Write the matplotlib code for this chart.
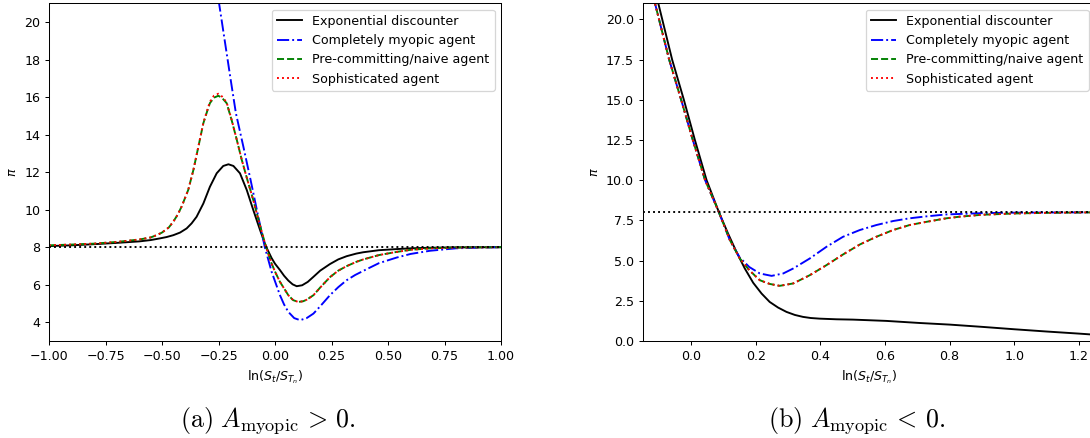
import matplotlib
matplotlib.use("Agg")
import matplotlib.pyplot as plt

# ---------------- data: panel (a) A_myopic > 0 ----------------
xa_exp = [-1.00, -0.90, -0.80, -0.70, -0.60, -0.55, -0.509, -0.48, -0.45, -0.42, -0.391,
          -0.369, -0.347, -0.317, -0.288, -0.258, -0.229, -0.206, -0.184, -0.155, -0.125,
          -0.096, -0.066, -0.04, -0.015, 0.0, 0.022, 0.04, 0.059, 0.078, 0.096, 0.12, 0.145,
          0.17, 0.20, 0.243, 0.28, 0.317, 0.36, 0.39, 0.46, 0.54, 0.60, 0.686, 0.80, 1.00]
ya_exp = [8.06, 8.10, 8.16, 8.23, 8.31, 8.38, 8.47, 8.54, 8.64, 8.78, 9.00,
          9.27, 9.62, 10.33, 11.22, 11.94, 12.33, 12.42, 12.33, 11.94, 11.05,
          9.98, 8.91, 8.04, 7.42, 7.12, 6.78, 6.48, 6.22, 6.02, 5.92, 5.97, 6.15,
          6.42, 6.75, 7.10, 7.35, 7.52, 7.66, 7.73, 7.84, 7.90, 7.94, 7.97, 7.99, 8.00]

xa_myo = [-0.25, -0.2465, -0.22, -0.196, -0.173, -0.140, -0.108, -0.077, -0.045, -0.015,
          0.022, 0.04, 0.059, 0.085, 0.111, 0.14, 0.17, 0.20, 0.243, 0.28, 0.317, 0.355,
          0.391, 0.46, 0.539, 0.60, 0.686, 0.80, 0.90, 1.00]
ya_myo = [21.2, 20.92, 18.82, 16.92, 15.14, 13.36, 11.58, 9.80, 8.00, 6.69,
          5.44, 4.95, 4.55, 4.22, 4.11, 4.22, 4.46, 4.85, 5.44, 5.87, 6.24, 6.52,
          6.74, 7.15, 7.45, 7.64, 7.81, 7.94, 7.98, 8.00]

xa_pre = [-1.00, -0.90, -0.80, -0.70, -0.60, -0.55, -0.52, -0.50, -0.47, -0.45, -0.43,
          -0.413, -0.384, -0.361, -0.339, -0.317, -0.30, -0.288, -0.27, -0.251, -0.235,
          -0.214, -0.192, -0.169, -0.147, -0.122, -0.096, -0.069, -0.040, -0.015, 0.0,
          0.022, 0.059, 0.08, 0.103, 0.125, 0.14, 0.17, 0.20, 0.243, 0.28, 0.317, 0.36,
          0.391, 0.46, 0.539, 0.60, 0.686, 0.80, 1.00]
ya_pre = [8.10, 8.14, 8.19, 8.28, 8.41, 8.52, 8.66, 8.78, 9.05, 9.36, 9.75,
          10.17, 11.05, 12.12, 13.36, 14.61, 15.25, 15.68, 15.97, 16.07, 15.97,
          15.68, 14.78, 13.72, 12.65, 11.58, 10.51, 9.27, 8.02, 7.13, 6.70,
          6.15, 5.44, 5.18, 5.08, 5.12, 5.20, 5.44, 5.85, 6.40, 6.75, 6.99, 7.22,
          7.35, 7.58, 7.75, 7.86, 7.94, 7.98, 8.00]

xa_sop = xa_pre
ya_sop = [8.10, 8.14, 8.19, 8.28, 8.41, 8.52, 8.66, 8.78, 9.05, 9.36, 9.75,
          10.17, 11.05, 12.12, 13.36, 14.63, 15.30, 15.75, 16.08, 16.18, 16.04,
          15.72, 14.80, 13.72, 12.65, 11.58, 10.51, 9.27, 8.02, 7.13, 6.70,
          6.15, 5.44, 5.18, 5.08, 5.12, 5.20, 5.44, 5.85, 6.40, 6.75, 6.99, 7.22,
          7.35, 7.58, 7.75, 7.86, 7.94, 7.98, 8.00]

# ---------------- data: panel (b) A_myopic < 0 ----------------
xb_exp = [-0.11, -0.102, -0.0588, -0.0226, 0.0114, 0.0476, 0.0857, 0.114, 0.140, 0.166,
          0.192, 0.218, 0.243, 0.269, 0.295, 0.321, 0.346, 0.37, 0.398, 0.45, 0.501,
          0.604, 0.707, 0.80, 0.90, 1.00, 1.10, 1.20, 1.25]
yb_exp = [21.7, 21.02, 17.49, 15.0, 12.51, 10.01, 8.02, 6.69, 5.55, 4.51,
          3.62, 2.95, 2.43, 2.08, 1.81, 1.62, 1.50, 1.43, 1.39, 1.35, 1.33,
          1.25, 1.12, 1.02, 0.88, 0.73, 0.59, 0.46, 0.39]

xb_myo = [-0.12, -0.112, -0.068, -0.031, 0.005, 0.043, 0.0857, 0.1197, 0.15, 0.18,
          0.2125, 0.249, 0.285, 0.316, 0.367, 0.419, 0.470, 0.522, 0.573, 0.625,
          0.676, 0.728, 0.79, 0.90, 1.00, 1.25]
yb_myo = [21.6, 21.0, 17.49, 15.0, 12.51, 10.01, 8.02, 6.27, 5.20, 4.60,
          4.20, 4.05, 4.20, 4.51, 5.13, 5.86, 6.48, 6.90, 7.21, 7.46,
          7.63, 7.75, 7.87, 7.95, 7.98, 8.00]

xb_pre = [-0.12, -0.112, -0.068, -0.031, 0.005, 0.043, 0.0857, 0.12, 0.15, 0.18,
          0.2125, 0.243, 0.274, 0.316, 0.367, 0.419, 0.470, 0.522, 0.573, 0.625,
          0.676, 0.728, 0.79, 0.831, 0.90, 1.00, 1.10, 1.25]
yb_pre = [21.6, 21.0, 17.49, 15.0, 12.51, 10.01, 8.02, 6.27, 5.15, 4.40,
          3.78, 3.55, 3.43, 3.58, 4.09, 4.72, 5.38, 6.00, 6.48, 6.90,
          7.21, 7.41, 7.63, 7.73, 7.85, 7.93, 7.97, 8.00]

xb_sop = xb_pre
yb_sop = yb_pre

merton_level = 8.0

labels = ["Exponential discounter", "Completely myopic agent",
          "Pre-committing/naive agent", "Sophisticated agent"]
xlabel = r"ln($S_t/S_{T_n}$)"
ylabel = r"$\pi$"
captions = [r"$\mathrm{(a)}\ A_{\mathrm{myopic}} \,>\, 0.$",
            r"$\mathrm{(b)}\ A_{\mathrm{myopic}} \,<\, 0.$"]

DPI = 91.2
W, H = 1090, 438
fig = plt.figure(figsize=(W / DPI, H / DPI), dpi=DPI)

ax1 = fig.add_axes([49 / W, (H - 341) / H, 452 / W, 337.7 / H])
ax2 = fig.add_axes([642.7 / W, (H - 341) / H, 452.3 / W, 337.7 / H])

panels = [
    (ax1, (xa_exp, ya_exp), (xa_myo, ya_myo), (xa_pre, ya_pre), (xa_sop, ya_sop), (-1.0, 1.0), (3, 21)),
    (ax2, (xb_exp, yb_exp), (xb_myo, yb_myo), (xb_pre, yb_pre), (xb_sop, yb_sop), (-0.15, 1.25), (0, 21)),
]

for ax, e, m, p, s, xl, yl in panels:
    ax.plot(e[0], e[1], color="k", ls="-", label=labels[0])
    ax.plot(m[0], m[1], color="b", ls="-.", label=labels[1])
    ax.plot(p[0], p[1], color="g", ls="--", label=labels[2])
    ax.plot(s[0], s[1], color="r", ls=":", label=labels[3])
    ax.axhline(merton_level, color="k", ls=":")
    ax.set_xlim(*xl)
    ax.set_ylim(*yl)
    ax.set_xlabel(xlabel)
    ax.set_ylabel(ylabel)
    ax.legend(loc="upper right")

ax1.set_xticks([-1.0, -0.75, -0.5, -0.25, 0.0, 0.25, 0.5, 0.75, 1.0])
ax1.set_yticks([4, 6, 8, 10, 12, 14, 16, 18, 20])
ax2.set_xticks([0.0, 0.2, 0.4, 0.6, 0.8, 1.0, 1.2])
ax2.set_yticks([0.0, 2.5, 5.0, 7.5, 10.0, 12.5, 15.0, 17.5, 20.0])

fig.text(267.7 / W, 1 - 421 / H, captions[0], ha="center", va="center",
         fontsize=20.5, math_fontfamily="cm")
fig.text(857 / W, 1 - 421 / H, captions[1], ha="center", va="center",
         fontsize=20.5, math_fontfamily="cm")

fig.savefig("out.png", dpi=DPI)
